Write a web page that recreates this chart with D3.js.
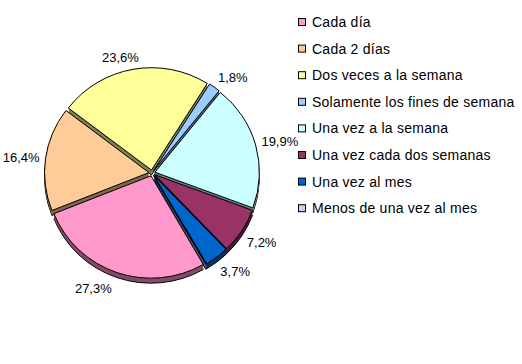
<!DOCTYPE html>
<meta charset="utf-8">
<style>
body {
  margin: 0;
  background: #fff;
}
text {
  font-family: "Liberation Sans", Arial, sans-serif;
  fill: #000;
}
</style>
<body>
<svg width="522" height="364"></svg>
<script src="https://d3js.org/d3.v7.min.js"></script>
<script>
// data
var categories = ["Cada día", "Cada 2 días", "Dos veces a la semana", "Solamente los fines de semana",
                  "Una vez a la semana", "Una vez cada dos semanas", "Una vez al mes", "Menos de una vez al mes"];
var values = [27.3, 16.4, 23.6, 1.8, 19.9, 7.2, 3.7, 0.1];
var valueLabels = ["27,3%", "16,4%", "23,6%", "1,8%", "19,9%", "7,2%", "3,7%", ""];
var colors = ["#ff99cc", "#ffcc99", "#ffff99", "#99ccff", "#ccffff", "#993366", "#0066cc", "#ccccff"];

var svg = d3.select("svg");

var cx = 152, cy = 173,
    r = 104.5,
    tilt = 0.98,     // vertical squash of the pie
    depth = 5,       // thickness of the 3d pie
    explode = 3;

var data = categories.map(function(c, i) {
  return {name: c, value: values[i], label: valueLabels[i], color: colors[i]};
});

var startAngle = 150 * Math.PI / 180;
var pie = d3.pie()
    .sort(null)
    .value(function(d) { return d.value; })
    .startAngle(startAngle)
    .endAngle(startAngle + 2 * Math.PI);

var arcs = pie(data);
var arc = d3.arc().innerRadius(0).outerRadius(r);

arcs.forEach(function(a) {
  a.mid = (a.startAngle + a.endAngle) / 2;
  a.ox = explode * Math.sin(a.mid);
  a.oy = -explode * Math.cos(a.mid) * tilt;
});

// paint back slices first
var order = arcs.slice().sort(function(a, b) { return (-Math.cos(a.mid)) - (-Math.cos(b.mid)); });

var pieG = svg.append("g");

order.forEach(function(a) {
  var c = d3.rgb(a.data.color);
  var dark = d3.rgb(c.r * 0.5, c.g * 0.5, c.b * 0.5);
  var g = pieG.append("g");
  for (var dz = depth; dz >= 1; dz--) {
    g.append("path")
      .attr("transform", "translate(" + (cx + a.ox) + "," + (cy + a.oy + dz) + ") scale(1," + tilt + ")")
      .attr("d", arc(a))
      .attr("fill", dark)
      .attr("stroke", dz == depth ? "#000" : "none")
      .attr("stroke-width", 1)
      .attr("vector-effect", "non-scaling-stroke");
  }
  g.append("path")
    .attr("transform", "translate(" + (cx + a.ox) + "," + (cy + a.oy) + ") scale(1," + tilt + ")")
    .attr("d", arc(a))
    .attr("fill", a.data.color)
    .attr("stroke", "#000")
    .attr("stroke-width", 1)
    .attr("vector-effect", "non-scaling-stroke");
});

// percentage labels outside the pie
var labelR = r + 9;
arcs.forEach(function(a) {
  if (!a.data.label) return;
  var s = Math.sin(a.mid), co = Math.cos(a.mid);
  var px = cx + labelR * s;
  var py = cy - labelR * tilt * co + (co < 0 ? depth : 0);
  var t = svg.append("text")
    .attr("font-size", "13px")
    .attr("text-anchor", "middle")
    .attr("dy", "0.35em")
    .text(a.data.label);
  var w = t.node().getComputedTextLength(), h = 12;
  var fx = Math.max(-1, Math.min(1, s * 3.5));
  t.attr("x", px + fx * w / 2 - (co < -0.9 ? 3 : 0))
   .attr("y", py - co * h / 2);
});

// legend
var legend = svg.append("g")
    .attr("transform", "translate(298,22)");

var rows = legend.selectAll("g")
  .data(data)
  .enter().append("g")
    .attr("transform", function(d, i) { return "translate(0," + (i * 26.6) + ")"; });

rows.append("rect")
    .attr("x", 0.5)
    .attr("y", -3.5)
    .attr("width", 7)
    .attr("height", 7)
    .attr("fill", function(d) { return d.color; })
    .attr("stroke", "#000");

rows.append("text")
    .attr("x", 14)
    .attr("dy", "0.36em")
    .attr("font-size", "14px")
    .attr("letter-spacing", "0.25px")
    .text(function(d) { return d.name; });
</script>
</body>
